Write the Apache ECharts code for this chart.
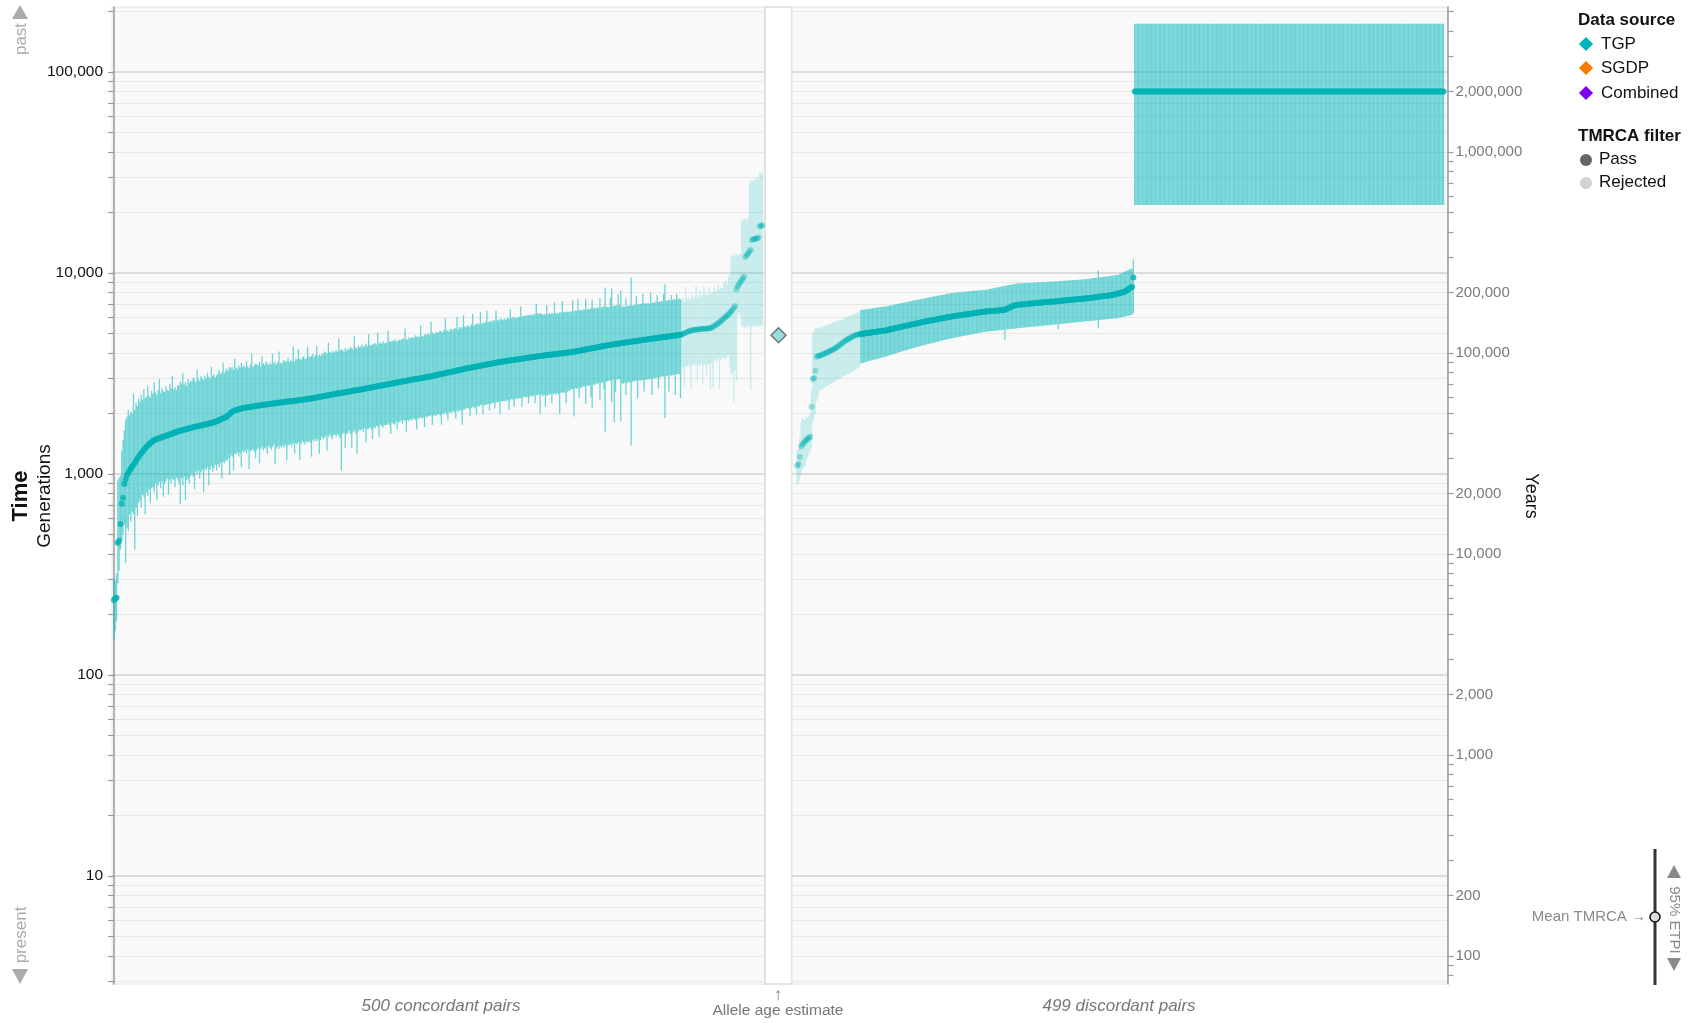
<!DOCTYPE html>
<html>
<head>
<meta charset="utf-8">
<title>Pairwise TMRCA estimates</title>
<script src="https://cdn.jsdelivr.net/npm/echarts@6/dist/echarts.min.js"></script>
<style>
  html, body { margin: 0; padding: 0; background: #ffffff; }
  #chart { width: 1690px; height: 1023px; }
</style>
</head>
<body>
<div id="chart"></div>
<script>
// ---- Axis extents and ticks (generations; years = generations x 25) ----
const YEARS_PER_GENERATION = 25;
const GEN_MIN = 2.9;
const GEN_MAX = 210600;

const generationTicks = [3, 4, 5, 6, 7, 8, 9, 10, 20, 30, 40, 50, 60, 70, 80, 90,
  100, 200, 300, 400, 500, 600, 700, 800, 900, 1000, 2000, 3000, 4000, 5000, 6000, 7000, 8000, 9000,
  10000, 20000, 30000, 40000, 50000, 60000, 70000, 80000, 90000, 100000, 200000];
const generationLabels = [10, 100, 1000, 10000, 100000];

const yearTicks = [80, 90, 100, 200, 300, 400, 500, 600, 700, 800, 900,
  1000, 2000, 3000, 4000, 5000, 6000, 7000, 8000, 9000,
  10000, 20000, 30000, 40000, 50000, 60000, 70000, 80000, 90000,
  100000, 200000, 300000, 400000, 500000, 600000, 700000, 800000, 900000,
  1000000, 2000000, 3000000, 4000000, 5000000];
const yearLabels = [100, 200, 1000, 2000, 10000, 20000, 100000, 200000, 1000000, 2000000];

// ---- Allele age estimate (generations) ----
const alleleAge = 4900;

// ---- 500 concordant pairs: mean TMRCA and 95% ETPI (generations) ----
const concordantMean = [
  236, 240, 242, 455, 465, 564, 711, 762, 892, 940,
  985, 1011, 1040, 1065, 1088, 1108, 1135, 1160, 1190, 1218,
  1243, 1268, 1292, 1318, 1342, 1367, 1387, 1405, 1425, 1443,
  1460, 1476, 1484, 1492, 1500, 1508, 1516, 1525, 1533, 1540,
  1548, 1556, 1565, 1574, 1582, 1590, 1598, 1607, 1616, 1625,
  1634, 1642, 1648, 1655, 1661, 1668, 1674, 1681, 1688, 1694,
  1701, 1707, 1714, 1720, 1726, 1732, 1738, 1744, 1750, 1757,
  1763, 1769, 1775, 1782, 1788, 1794, 1800, 1808, 1818, 1830,
  1842, 1855, 1868, 1880, 1892, 1903, 1913, 1935, 1962, 1990,
  2018, 2041, 2055, 2068, 2080, 2090, 2100, 2108, 2116, 2123,
  2129, 2134, 2140, 2145, 2150, 2156, 2161, 2167, 2172, 2177,
  2183, 2188, 2193, 2198, 2204, 2208, 2213, 2217, 2222, 2226,
  2231, 2236, 2240, 2245, 2250, 2254, 2259, 2263, 2267, 2271,
  2275, 2279, 2283, 2287, 2291, 2295, 2300, 2304, 2308, 2312,
  2316, 2321, 2326, 2331, 2336, 2341, 2346, 2351, 2356, 2361,
  2366, 2371, 2376, 2380, 2386, 2393, 2400, 2407, 2414, 2421,
  2428, 2436, 2443, 2450, 2457, 2465, 2472, 2479, 2485, 2492,
  2499, 2505, 2512, 2519, 2525, 2532, 2539, 2546, 2552, 2559,
  2566, 2573, 2580, 2587, 2594, 2600, 2607, 2614, 2620, 2627,
  2634, 2640, 2647, 2655, 2663, 2671, 2679, 2687, 2695, 2703,
  2711, 2719, 2727, 2735, 2743, 2751, 2759, 2767, 2775, 2783,
  2791, 2799, 2807, 2815, 2823, 2831, 2839, 2847, 2855, 2863,
  2870, 2878, 2886, 2894, 2902, 2910, 2917, 2925, 2933, 2941,
  2949, 2957, 2965, 2973, 2980, 2988, 2996, 3004, 3012, 3020,
  3028, 3035, 3043, 3050, 3060, 3071, 3081, 3092, 3102, 3113,
  3123, 3134, 3144, 3155, 3165, 3176, 3186, 3197, 3207, 3218,
  3228, 3239, 3249, 3260, 3270, 3281, 3292, 3303, 3314, 3325,
  3335, 3345, 3355, 3366, 3376, 3386, 3397, 3407, 3417, 3427,
  3437, 3448, 3458, 3468, 3478, 3489, 3499, 3509, 3519, 3530,
  3540, 3550, 3560, 3570, 3580, 3589, 3597, 3606, 3614, 3623,
  3631, 3640, 3648, 3657, 3666, 3675, 3684, 3692, 3700, 3708,
  3716, 3724, 3733, 3741, 3749, 3757, 3766, 3774, 3782, 3790,
  3798, 3806, 3815, 3823, 3831, 3839, 3848, 3856, 3864, 3872,
  3880, 3888, 3895, 3903, 3910, 3917, 3924, 3931, 3938, 3945,
  3952, 3958, 3965, 3972, 3979, 3986, 3993, 4000, 4008, 4016,
  4024, 4032, 4040, 4048, 4057, 4068, 4080, 4092, 4104, 4116,
  4128, 4140, 4152, 4164, 4176, 4188, 4200, 4212, 4224, 4236,
  4248, 4260, 4272, 4284, 4296, 4308, 4320, 4332, 4344, 4357,
  4369, 4381, 4391, 4401, 4411, 4421, 4431, 4441, 4451, 4461,
  4471, 4481, 4491, 4501, 4511, 4521, 4531, 4541, 4551, 4561,
  4571, 4581, 4591, 4601, 4611, 4621, 4631, 4640, 4650, 4660,
  4670, 4680, 4690, 4700, 4710, 4720, 4729, 4739, 4749, 4758,
  4768, 4778, 4787, 4797, 4807, 4817, 4826, 4836, 4846, 4856,
  4866, 4876, 4886, 4896, 4905, 4914, 4935, 4960, 4990, 5020,
  5050, 5080, 5110, 5140, 5170, 5190, 5208, 5218, 5226, 5234,
  5242, 5250, 5258, 5266, 5274, 5282, 5290, 5298, 5305, 5312,
  5355, 5400, 5450, 5505, 5560, 5620, 5690, 5760, 5840, 5920,
  6000, 6070, 6150, 6240, 6340, 6450, 6570, 6700, 6850, 8300,
  8600, 8800, 9000, 9200, 9400, 9600, 12000, 12300, 12500, 12800,
  13000, 14600, 14700, 14800, 14800, 14900, 15000, 17100, 17200, 17300
];
const concordantLower = [
  150, 165, 185, 285, 330, 420, 470, 500, 560, 360,
  540, 520, 630, 580, 650, 630, 420, 680, 620, 720,
  740, 680, 790, 770, 630, 810, 780, 840, 720, 850,
  860, 810, 900, 740, 880, 910, 850, 920, 770, 890,
  920, 950, 790, 940, 900, 950, 930, 860, 960, 940,
  900, 710, 950, 880, 970, 740, 930, 950, 900, 980,
  1010, 970, 840, 1030, 990, 1040, 950, 1020, 1050, 810,
  1060, 1040, 1080, 880, 1050, 1100, 1030, 1070, 1110, 1040,
  1120, 1080, 1130, 950, 1150, 1130, 1170, 1160, 1200, 990,
  1240, 1220, 1040, 1260, 1250, 1280, 1220, 1270, 1080, 1300,
  1280, 1310, 1260, 1320, 1060, 1300, 1310, 1330, 1290, 1200,
  1320, 1350, 1130, 1330, 1370, 1310, 1340, 1360, 1260, 1380,
  1350, 1320, 1360, 1400, 1120, 1340, 1370, 1330, 1380, 1350,
  1390, 1360, 1400, 1170, 1380, 1400, 1410, 1370, 1420, 1260,
  1420, 1400, 1440, 1170, 1410, 1460, 1430, 1400, 1450, 1440,
  1460, 1430, 1220, 1480, 1450, 1490, 1460, 1490, 1260, 1470,
  1530, 1490, 1510, 1550, 1310, 1520, 1570, 1530, 1490, 1560,
  1570, 1530, 1580, 1550, 1510, 1040, 1580, 1600, 1350, 1570,
  1600, 1640, 1580, 1350, 1610, 1650, 1590, 1260, 1620, 1660,
  1650, 1670, 1620, 1690, 1440, 1670, 1680, 1710, 1670, 1490,
  1710, 1690, 1740, 1720, 1530, 1760, 1730, 1700, 1760, 1750,
  1760, 1790, 1750, 1580, 1800, 1780, 1760, 1820, 1670, 1810,
  1820, 1850, 1780, 1850, 1840, 1620, 1860, 1830, 1870, 1850,
  1870, 1890, 1850, 1670, 1900, 1880, 1920, 1890, 1910, 1710,
  1930, 1910, 1940, 1940, 1960, 1760, 1950, 1970, 1940, 1980,
  1980, 1960, 1760, 2000, 1990, 2020, 1980, 1850, 2030, 2010,
  2030, 2050, 2030, 1890, 2070, 2040, 2080, 2060, 1760, 2090,
  2100, 2120, 2140, 2110, 1940, 2130, 2160, 2120, 2150, 1980,
  2180, 2160, 2200, 2210, 1980, 2190, 2220, 2210, 2230, 2070,
  2230, 2250, 2270, 2120, 2260, 2290, 2280, 1980, 2300, 2300,
  2300, 2320, 2300, 2340, 2090, 2330, 2360, 2340, 2160, 2370,
  2380, 2360, 2390, 2390, 2160, 2410, 2430, 2400, 2420, 2250,
  2430, 2450, 2420, 2470, 2250, 2460, 2480, 2480, 1980, 2490,
  2430, 2480, 2160, 2450, 2480, 2470, 2500, 2250, 2490, 2520,
  2480, 2520, 2500, 1980, 2540, 2520, 2560, 2530, 2250, 2570,
  2590, 2620, 2650, 2630, 1930, 2670, 2650, 2690, 2390, 2670,
  2700, 2730, 2720, 2230, 2750, 2740, 2770, 2420, 2140, 2790,
  2770, 2820, 2800, 2840, 2350, 2830, 2860, 2630, 1620, 2880,
  2900, 2930, 2910, 2280, 2950, 1810, 2570, 2960, 2950, 2970,
  1830, 2830, 2810, 2850, 2470, 2840, 2870, 2850, 1380, 2880,
  2900, 2890, 2920, 2380, 2930, 2910, 2950, 2930, 2570, 2950,
  2950, 2960, 2950, 2980, 2470, 2970, 3000, 2990, 3020, 2660,
  3020, 3040, 3060, 3050, 1900, 3070, 3090, 2570, 3100, 3080,
  3100, 3120, 2470, 3140, 3130, 3140, 2380, 3400, 3350, 2700,
  3450, 3420, 3500, 3380, 2620, 3480, 3520, 3460, 3540, 2900,
  3500, 3450, 3550, 2800, 3480, 3520, 3100, 3540, 3500, 2620,
  3600, 2700, 3650, 3700, 3600, 3750, 2650, 3700, 3800, 3750,
  3800, 3700, 3850, 3900, 3400, 3100, 3200, 2270, 3300, 2900,
  6200, 6400, 6100, 5400, 5500, 5300, 5400, 5500, 5350, 5450,
  2617, 5400, 5450, 5380, 5500, 5420, 5460, 5400, 5500, 5450
];
const concordantUpper = [
  305, 295, 320, 930, 960, 980, 1300, 1480, 1650, 1860,
  1930, 2090, 1960, 2040, 2000, 2510, 2090, 2260, 2180, 2370,
  2290, 2480, 2340, 2640, 2380, 2420, 2750, 2450, 2400, 2590,
  2510, 2860, 2550, 2480, 2620, 2970, 2530, 2660, 2590, 2560,
  2730, 2620, 2590, 2810, 2660, 3080, 2640, 2710, 2620, 2770,
  2750, 2880, 2820, 3190, 2790, 2860, 2730, 2970, 2840, 2920,
  2880, 3030, 2950, 2860, 3300, 2970, 2900, 3060, 2990, 2930,
  3080, 2990, 3190, 3040, 2970, 3410, 3060, 3140, 3010, 3100,
  3170, 3300, 3140, 3210, 3580, 3190, 3280, 3360, 3250, 3410,
  3360, 3410, 3300, 3740, 3390, 3320, 3470, 3370, 3580, 3410,
  3470, 3390, 3630, 3430, 3360, 3500, 3960, 3410, 3480, 3540,
  3520, 3470, 3610, 3430, 3850, 3540, 3500, 3630, 3560, 3480,
  3590, 3520, 3960, 3560, 3630, 3500, 3610, 4070, 3580, 3540,
  3630, 3690, 3610, 3650, 3800, 3590, 3670, 3630, 4290, 3640,
  3760, 3720, 4180, 3740, 3690, 3800, 3850, 3720, 3770, 4290,
  3850, 3810, 3870, 3960, 3800, 3910, 4350, 3850, 3920, 3870,
  3980, 3940, 4070, 4020, 3960, 4510, 4050, 4000, 4090, 4030,
  4070, 4130, 4050, 4730, 4090, 4180, 4140, 4060, 4240, 4110,
  4200, 4160, 4290, 4240, 4180, 4840, 4260, 4200, 4350, 4270,
  4310, 4400, 4270, 4350, 4460, 4320, 4950, 4380, 4360, 4420,
  4420, 4490, 4400, 5060, 4460, 4510, 4440, 4570, 4490, 4470,
  4510, 5170, 4570, 4530, 4620, 4580, 4680, 4600, 4550, 4640,
  4660, 4620, 4730, 4690, 5280, 4710, 4640, 4790, 4720, 4750,
  4800, 4750, 4900, 4820, 4840, 4790, 5500, 4860, 4830, 4930,
  4950, 4910, 5010, 4930, 5720, 5060, 4970, 5020, 5080, 5040,
  5080, 5170, 5120, 5060, 5230, 5940, 5150, 5190, 5120, 5280,
  5260, 5190, 5340, 5280, 6050, 5240, 5390, 5300, 5370, 6160,
  5410, 5370, 5500, 5450, 5390, 5560, 6270, 5480, 5520, 5590,
  5610, 5560, 6380, 5590, 5670, 5630, 5720, 6490, 5680, 5740,
  5780, 5720, 5830, 5810, 6490, 5850, 5790, 5890, 5940, 5840,
  5890, 5940, 5850, 6000, 5920, 6600, 5960, 6010, 6050, 5940,
  6030, 6000, 6070, 6820, 6050, 6120, 6090, 6160, 6140, 6180,
  6160, 6220, 6140, 6270, 6230, 7040, 6290, 6250, 6330, 6270,
  6180, 6270, 6220, 6930, 6250, 6290, 6230, 6330, 6270, 7150,
  6290, 6340, 6270, 6380, 6360, 7260, 6400, 6370, 6440, 6410,
  6410, 6380, 6450, 7300, 6430, 6500, 6470, 7410, 6540, 6520,
  6530, 6590, 6570, 7450, 6610, 6640, 6590, 6700, 7340, 6670,
  6690, 6630, 6740, 6720, 7490, 6760, 6740, 6850, 8450, 6790,
  6780, 6760, 7530, 8370, 6810, 6890, 6870, 6910, 7840, 6940,
  8190, 6770, 6830, 6800, 7460, 6830, 6880, 6910, 9500, 6890,
  6930, 6980, 7670, 6950, 7040, 7010, 7060, 7880, 7040, 7090,
  7040, 7090, 7060, 7980, 7120, 7140, 7100, 7190, 7770, 7160,
  7190, 7250, 7210, 7880, 8800, 7270, 7300, 7350, 7320, 7770,
  7350, 7400, 7370, 7880, 7410, 7460, 7400, 7300, 7500, 7200,
  8500, 7400, 7600, 7350, 7500, 7800, 7450, 7600, 8700, 7550,
  7700, 8200, 7650, 7800, 8600, 7750, 7900, 7700, 8400, 7850,
  7900, 8100, 8500, 8000, 8200, 8800, 8300, 8500, 8400, 8900,
  9000, 9200, 8800, 9500, 9800, 12300, 12000, 12500, 12200, 12300,
  12400, 12200, 12500, 18400, 18200, 18500, 18600, 18300, 18800, 28000,
  29000, 28500, 29000, 28800, 29500, 30000, 29200, 31500, 31000, 32000
];
// pairs whose TMRCA was rejected by the filter (inclusive index ranges)
const concordantRejected = [[437, 499]];

// ---- 499 discordant pairs: mean TMRCA and 95% ETPI (generations) ----
const discordantMean = [
  1100, 1121, 1215, 1370, 1400, 1430, 1455, 1476, 1495, 1515,
  1533, 2163, 2970, 3000, 3265, 3836, 3860, 3880, 3900, 3920,
  3945, 3970, 3995, 4020, 4057, 4085, 4115, 4150, 4180, 4215,
  4250, 4298, 4345, 4395, 4445, 4495, 4545, 4595, 4640, 4680,
  4720, 4760, 4800, 4840, 4875, 4914, 4930, 4945, 4955, 4967,
  4978, 4990, 5000, 5012, 5023, 5035, 5046, 5057, 5069, 5080,
  5092, 5103, 5114, 5126, 5137, 5149, 5155, 5160, 5178, 5196,
  5214, 5232, 5250, 5268, 5286, 5304, 5322, 5340, 5358, 5376,
  5394, 5412, 5430, 5448, 5466, 5484, 5502, 5520, 5538, 5556,
  5574, 5592, 5610, 5630, 5647, 5664, 5681, 5698, 5715, 5732,
  5749, 5766, 5783, 5800, 5817, 5834, 5851, 5868, 5885, 5902,
  5919, 5936, 5953, 5970, 5987, 6004, 6020, 6037, 6054, 6070,
  6084, 6098, 6112, 6126, 6140, 6154, 6168, 6182, 6196, 6210,
  6224, 6238, 6252, 6266, 6280, 6294, 6308, 6322, 6336, 6350,
  6364, 6378, 6392, 6405, 6418, 6430, 6438, 6446, 6454, 6462,
  6470, 6478, 6486, 6494, 6502, 6510, 6518, 6526, 6534, 6542,
  6560, 6600, 6650, 6700, 6750, 6800, 6850, 6890, 6920, 6940,
  6950, 6960, 6970, 6980, 6990, 7000, 7010, 7020, 7030, 7040,
  7050, 7060, 7070, 7080, 7090, 7100, 7110, 7120, 7130, 7140,
  7148, 7156, 7164, 7172, 7180, 7185, 7190, 7201, 7212, 7223,
  7234, 7245, 7256, 7267, 7278, 7289, 7300, 7311, 7322, 7333,
  7344, 7355, 7366, 7377, 7388, 7399, 7410, 7420, 7430, 7440,
  7450, 7460, 7470, 7484, 7498, 7512, 7526, 7540, 7554, 7568,
  7582, 7596, 7610, 7624, 7638, 7652, 7666, 7680, 7694, 7708,
  7722, 7736, 7750, 7780, 7810, 7840, 7870, 7900, 7930, 7960,
  7990, 8020, 8050, 8120, 8200, 8290, 8390, 8460, 8520, 9500,
  80000, 80000, 80000, 80000, 80000, 80000, 80000, 80000, 80000, 80000,
  80000, 80000, 80000, 80000, 80000, 80000, 80000, 80000, 80000, 80000,
  80000, 80000, 80000, 80000, 80000, 80000, 80000, 80000, 80000, 80000,
  80000, 80000, 80000, 80000, 80000, 80000, 80000, 80000, 80000, 80000,
  80000, 80000, 80000, 80000, 80000, 80000, 80000, 80000, 80000, 80000,
  80000, 80000, 80000, 80000, 80000, 80000, 80000, 80000, 80000, 80000,
  80000, 80000, 80000, 80000, 80000, 80000, 80000, 80000, 80000, 80000,
  80000, 80000, 80000, 80000, 80000, 80000, 80000, 80000, 80000, 80000,
  80000, 80000, 80000, 80000, 80000, 80000, 80000, 80000, 80000, 80000,
  80000, 80000, 80000, 80000, 80000, 80000, 80000, 80000, 80000, 80000,
  80000, 80000, 80000, 80000, 80000, 80000, 80000, 80000, 80000, 80000,
  80000, 80000, 80000, 80000, 80000, 80000, 80000, 80000, 80000, 80000,
  80000, 80000, 80000, 80000, 80000, 80000, 80000, 80000, 80000, 80000,
  80000, 80000, 80000, 80000, 80000, 80000, 80000, 80000, 80000, 80000,
  80000, 80000, 80000, 80000, 80000, 80000, 80000, 80000, 80000, 80000,
  80000, 80000, 80000, 80000, 80000, 80000, 80000, 80000, 80000, 80000,
  80000, 80000, 80000, 80000, 80000, 80000, 80000, 80000, 80000, 80000,
  80000, 80000, 80000, 80000, 80000, 80000, 80000, 80000, 80000, 80000,
  80000, 80000, 80000, 80000, 80000, 80000, 80000, 80000, 80000, 80000,
  80000, 80000, 80000, 80000, 80000, 80000, 80000, 80000, 80000, 80000,
  80000, 80000, 80000, 80000, 80000, 80000, 80000, 80000, 80000, 80000,
  80000, 80000, 80000, 80000, 80000, 80000, 80000, 80000, 80000, 80000,
  80000, 80000, 80000, 80000, 80000, 80000, 80000, 80000, 80000, 80000,
  80000, 80000, 80000, 80000, 80000, 80000, 80000, 80000, 80000
];
const discordantLower = [
  880, 900, 950, 1000, 1050, 1080, 1100, 1150, 1200, 1250,
  1300, 1350, 1800, 1900, 2000, 2300, 2400, 2600, 2620, 2640,
  2660, 2690, 2710, 2740, 2760, 2790, 2810, 2840, 2860, 2890,
  2910, 2940, 2960, 2990, 3010, 3040, 3060, 3090, 3110, 3140,
  3160, 3190, 3210, 3240, 3270, 3300, 3330, 3370, 3410, 3550,
  3565, 3580, 3595, 3610, 3625, 3640, 3655, 3670, 3685, 3700,
  3715, 3730, 3745, 3760, 3775, 3790, 3805, 3820, 3836, 3855,
  3873, 3892, 3910, 3928, 3947, 3965, 3984, 4002, 4020, 4040,
  4058, 4076, 4095, 4113, 4132, 4150, 4168, 4187, 4205, 4224,
  4242, 4260, 4280, 4298, 4315, 4331, 4348, 4365, 4381, 4398,
  4415, 4431, 4448, 4465, 4481, 4498, 4515, 4531, 4548, 4565,
  4581, 4598, 4615, 4631, 4648, 4665, 4681, 4698, 4714, 4730,
  4744, 4758, 4772, 4787, 4801, 4815, 4829, 4843, 4858, 4872,
  4886, 4900, 4915, 4929, 4943, 4957, 4971, 4986, 5000, 5014,
  5028, 5042, 5057, 5071, 5085, 5100, 5108, 5117, 5125, 5134,
  5142, 5151, 5159, 5168, 5176, 5185, 5193, 5202, 5210, 5219,
  4640, 5236, 5244, 5253, 5261, 5270, 5278, 5287, 5295, 5304,
  5312, 5320, 5328, 5336, 5344, 5352, 5360, 5368, 5376, 5384,
  5392, 5400, 5408, 5416, 5424, 5432, 5440, 5448, 5456, 5464,
  5472, 5480, 5488, 5496, 5504, 5512, 5520, 5528, 5537, 5545,
  5554, 5250, 5571, 5579, 5588, 5596, 5605, 5613, 5622, 5630,
  5639, 5647, 5656, 5664, 5673, 5681, 5690, 5698, 5707, 5715,
  5724, 5732, 5740, 5749, 5758, 5767, 5775, 5784, 5793, 5802,
  5811, 5820, 5312, 5837, 5846, 5855, 5864, 5872, 5881, 5890,
  5899, 5908, 5916, 5925, 5934, 5943, 5951, 5960, 5981, 6002,
  6023, 6044, 6065, 6086, 6107, 6128, 6149, 6170, 6190, 6300,
  21800, 21800, 21800, 21800, 21800, 21800, 21800, 21800, 21800, 21800,
  21800, 21800, 21800, 21800, 21800, 21800, 21800, 21800, 21800, 21800,
  21800, 21800, 21800, 21800, 21800, 21800, 21800, 21800, 21800, 21800,
  21800, 21800, 21800, 21800, 21800, 21800, 21800, 21800, 21800, 21800,
  21800, 21800, 21800, 21800, 21800, 21800, 21800, 21800, 21800, 21800,
  21800, 21800, 21800, 21800, 21800, 21800, 21800, 21800, 21800, 21800,
  21800, 21800, 21800, 21800, 21800, 21800, 21800, 21800, 21800, 21800,
  21800, 21800, 21800, 21800, 21800, 21800, 21800, 21800, 21800, 21800,
  21800, 21800, 21800, 21800, 21800, 21800, 21800, 21800, 21800, 21800,
  21800, 21800, 21800, 21800, 21800, 21800, 21800, 21800, 21800, 21800,
  21800, 21800, 21800, 21800, 21800, 21800, 21800, 21800, 21800, 21800,
  21800, 21800, 21800, 21800, 21800, 21800, 21800, 21800, 21800, 21800,
  21800, 21800, 21800, 21800, 21800, 21800, 21800, 21800, 21800, 21800,
  21800, 21800, 21800, 21800, 21800, 21800, 21800, 21800, 21800, 21800,
  21800, 21800, 21800, 21800, 21800, 21800, 21800, 21800, 21800, 21800,
  21800, 21800, 21800, 21800, 21800, 21800, 21800, 21800, 21800, 21800,
  21800, 21800, 21800, 21800, 21800, 21800, 21800, 21800, 21800, 21800,
  21800, 21800, 21800, 21800, 21800, 21800, 21800, 21800, 21800, 21800,
  21800, 21800, 21800, 21800, 21800, 21800, 21800, 21800, 21800, 21800,
  21800, 21800, 21800, 21800, 21800, 21800, 21800, 21800, 21800, 21800,
  21800, 21800, 21800, 21800, 21800, 21800, 21800, 21800, 21800, 21800,
  21800, 21800, 21800, 21800, 21800, 21800, 21800, 21800, 21800, 21800,
  21800, 21800, 21800, 21800, 21800, 21800, 21800, 21800, 21800, 21800,
  21800, 21800, 21800, 21800, 21800, 21800, 21800, 21800, 21800
];
const discordantUpper = [
  1320, 1330, 1500, 1800, 1900, 1880, 1850, 1930, 1900, 1950,
  2000, 2600, 5000, 5200, 5300, 5312, 5350, 5330, 5360, 5390,
  5420, 5450, 5480, 5510, 5540, 5570, 5600, 5640, 5670, 5700,
  5740, 5770, 5800, 5840, 5870, 5900, 5940, 5980, 6020, 6060,
  6100, 6140, 6180, 6220, 6260, 6300, 6340, 6380, 6430, 6550,
  6565, 6575, 6590, 6605, 6620, 6630, 6645, 6660, 6675, 6690,
  6700, 6715, 6730, 6745, 6760, 6770, 6790, 6800, 6810, 6830,
  6855, 6875, 6900, 6920, 6940, 6965, 6985, 7010, 7030, 7050,
  7075, 7095, 7120, 7140, 7160, 7185, 7205, 7230, 7250, 7270,
  7295, 7315, 7340, 7360, 7385, 7405, 7430, 7450, 7475, 7495,
  7520, 7540, 7565, 7585, 7610, 7630, 7655, 7675, 7700, 7720,
  7745, 7765, 7790, 7810, 7835, 7860, 7880, 7905, 7925, 7950,
  7960, 7970, 7985, 7995, 8010, 8020, 8030, 8045, 8055, 8065,
  8080, 8090, 8100, 8115, 8125, 8135, 8150, 8160, 8170, 8185,
  8195, 8205, 8220, 8230, 8240, 8250, 8275, 8300, 8325, 8350,
  8375, 8400, 8425, 8450, 8475, 8500, 8525, 8550, 8575, 8600,
  8625, 8650, 8680, 8700, 8730, 8750, 8780, 8800, 8830, 8855,
  8880, 8885, 8895, 8900, 8910, 8915, 8920, 8930, 8935, 8940,
  8950, 8955, 8960, 8970, 8975, 8985, 8990, 9000, 9005, 9010,
  9020, 9025, 9030, 9040, 9045, 9050, 9060, 9070, 9080, 9090,
  9100, 9110, 9115, 9125, 9135, 9145, 9155, 9165, 9175, 9185,
  9195, 9200, 9210, 9220, 9230, 9240, 9250, 9260, 9270, 9280,
  9290, 9300, 9310, 9330, 9350, 9365, 9385, 9405, 9420, 9440,
  9460, 9480, 10300, 9515, 9535, 9555, 9570, 9590, 9610, 9630,
  9645, 9665, 9685, 9705, 9720, 9740, 9760, 9780, 9850, 9920,
  9990, 10060, 10130, 10200, 10270, 10340, 10400, 10470, 10530, 11700,
  174000, 174000, 174000, 174000, 174000, 174000, 174000, 174000, 174000, 174000,
  174000, 174000, 174000, 174000, 174000, 174000, 174000, 174000, 174000, 174000,
  174000, 174000, 174000, 174000, 174000, 174000, 174000, 174000, 174000, 174000,
  174000, 174000, 174000, 174000, 174000, 174000, 174000, 174000, 174000, 174000,
  174000, 174000, 174000, 174000, 174000, 174000, 174000, 174000, 174000, 174000,
  174000, 174000, 174000, 174000, 174000, 174000, 174000, 174000, 174000, 174000,
  174000, 174000, 174000, 174000, 174000, 174000, 174000, 174000, 174000, 174000,
  174000, 174000, 174000, 174000, 174000, 174000, 174000, 174000, 174000, 174000,
  174000, 174000, 174000, 174000, 174000, 174000, 174000, 174000, 174000, 174000,
  174000, 174000, 174000, 174000, 174000, 174000, 174000, 174000, 174000, 174000,
  174000, 174000, 174000, 174000, 174000, 174000, 174000, 174000, 174000, 174000,
  174000, 174000, 174000, 174000, 174000, 174000, 174000, 174000, 174000, 174000,
  174000, 174000, 174000, 174000, 174000, 174000, 174000, 174000, 174000, 174000,
  174000, 174000, 174000, 174000, 174000, 174000, 174000, 174000, 174000, 174000,
  174000, 174000, 174000, 174000, 174000, 174000, 174000, 174000, 174000, 174000,
  174000, 174000, 174000, 174000, 174000, 174000, 174000, 174000, 174000, 174000,
  174000, 174000, 174000, 174000, 174000, 174000, 174000, 174000, 174000, 174000,
  174000, 174000, 174000, 174000, 174000, 174000, 174000, 174000, 174000, 174000,
  174000, 174000, 174000, 174000, 174000, 174000, 174000, 174000, 174000, 174000,
  174000, 174000, 174000, 174000, 174000, 174000, 174000, 174000, 174000, 174000,
  174000, 174000, 174000, 174000, 174000, 174000, 174000, 174000, 174000, 174000,
  174000, 174000, 174000, 174000, 174000, 174000, 174000, 174000, 174000, 174000,
  174000, 174000, 174000, 174000, 174000, 174000, 174000, 174000, 174000, 174000,
  174000, 174000, 174000, 174000, 174000, 174000, 174000, 174000, 174000
];
const discordantRejected = [[0, 48]];

// ---- Styling ----
const FONT = '"Liberation Sans", Arial, Helvetica, sans-serif';
const TEAL = '#00b2b5';
const BAND_PASS = 'rgba(0, 183, 186, 0.56)';
const BAND_REJECT = 'rgba(0, 183, 186, 0.2)';
const DOT_REJECT = 'rgba(0, 178, 181, 0.45)';
const KEY_GRAY = '#8a8a8a';

function isRejected(ranges, i) {
  return ranges.some(r => i >= r[0] && i <= r[1]);
}

// split pairs into pass / rejected rows: [index, lower, upper, mean]
function splitPairs(mean, lower, upper, rejected) {
  const pass = [], rej = [];
  for (let i = 0; i < mean.length; i++) {
    const row = [i, lower[i], upper[i], mean[i]];
    (isRejected(rejected, i) ? rej : pass).push(row);
  }
  return { pass, rej };
}

const conc = splitPairs(concordantMean, concordantLower, concordantUpper, concordantRejected);
const disc = splitPairs(discordantMean, discordantLower, discordantUpper, discordantRejected);

// one vertical interval bar per pair, one pair wide
function intervalRenderer(fill) {
  return function (params, api) {
    const i = api.value(0);
    const topLeft = api.coord([i - 0.5, api.value(2)]);
    const bottomRight = api.coord([i + 0.5, api.value(1)]);
    return {
      type: 'rect',
      shape: {
        x: topLeft[0], y: topLeft[1],
        width: bottomRight[0] - topLeft[0],
        height: bottomRight[1] - topLeft[1]
      },
      style: { fill: fill }
    };
  };
}

function intervalSeries(rows, xi, yi, fill) {
  return {
    type: 'custom', xAxisIndex: xi, yAxisIndex: yi,
    data: rows, encode: { x: 0, y: [1, 2] },
    renderItem: intervalRenderer(fill), clip: true, silent: true, z: 2
  };
}

function meanSeries(rows, xi, yi, color) {
  return {
    type: 'scatter', xAxisIndex: xi, yAxisIndex: yi,
    data: rows.map(r => [r[0], r[3]]),
    symbol: 'circle', symbolSize: 6,
    itemStyle: { color: color }, silent: true, z: 3
  };
}

const fmt = v => Math.round(v).toLocaleString('en-US');

function genAxis(grid, opts) {
  return Object.assign({
    type: 'log', logBase: 10, gridIndex: grid, min: GEN_MIN, max: GEN_MAX,
    position: 'left',
    axisLine: { show: false },
    axisTick: { show: false, customValues: generationTicks },
    axisLabel: { show: false },
    splitLine: { show: false },
    minorTick: { show: false }, minorSplitLine: { show: false }
  }, opts);
}

function label(x, y, text, font, fill, extra) {
  return Object.assign({
    type: 'text', x: x, y: y,
    style: { text: text, font: font, fill: fill, align: 'left', verticalAlign: 'middle' }
  }, extra || {});
}

function centered(x, y, text, font, fill, rotation) {
  return {
    type: 'text', x: x, y: y, rotation: rotation || 0,
    style: { text: text, font: font, fill: fill, align: 'center', verticalAlign: 'middle' }
  };
}

function diamondKey(x, y, color) {
  return { type: 'rect', x: x, y: y, rotation: Math.PI / 4,
           shape: { x: -5, y: -5, width: 10, height: 10 }, style: { fill: color } };
}

const chart = echarts.init(document.getElementById('chart'), null, { renderer: 'canvas' });

const option = {
  animation: false,
  backgroundColor: '#ffffff',
  textStyle: { fontFamily: FONT },
  grid: [
    { left: 112, top: 7, width: 653, bottom: 39, show: true, backgroundColor: '#f9f9f9',
      borderColor: '#e4e4e4', borderWidth: 1, containLabel: false, outerBoundsMode: 'none' },
    { left: 765, top: 7, width: 27, bottom: 39, show: true, backgroundColor: '#ffffff',
      borderColor: '#dadada', borderWidth: 1.5, containLabel: false, outerBoundsMode: 'none' },
    { left: 792, top: 7, width: 655.5, bottom: 39, show: true, backgroundColor: '#f9f9f9',
      borderColor: '#e4e4e4', borderWidth: 1, containLabel: false, outerBoundsMode: 'none' }
  ],
  xAxis: [
    { type: 'value', gridIndex: 0, min: -1.5, max: 501, show: false },
    { type: 'value', gridIndex: 1, min: 0, max: 1, show: false },
    { type: 'value', gridIndex: 2, min: -4, max: 501, show: false }
  ],
  yAxis: [
    // 0: left generation axis with all tick grid lines
    genAxis(0, {
      axisLine: { show: true, lineStyle: { color: '#9a9a9a', width: 1.5 } },
      axisTick: { show: true, customValues: generationTicks, length: 6, lineStyle: { color: '#9a9a9a', width: 1.2 } },
      axisLabel: { show: true, customValues: generationLabels, formatter: fmt, color: '#111',
                   fontSize: 15.5, fontFamily: FONT, margin: 9 },
      splitLine: { show: true, lineStyle: { color: '#e8e8e8', width: 1 } }
    }),
    // 1: stronger lines at powers of ten, left panel
    genAxis(0, {
      axisTick: { show: false, customValues: generationLabels },
      splitLine: { show: true, lineStyle: { color: '#dcdcdc', width: 2 } }
    }),
    // 2: allele age column
    genAxis(1, {}),
    // 3: minor grid lines, right panel
    genAxis(2, {
      splitLine: { show: true, lineStyle: { color: '#e8e8e8', width: 1 } }
    }),
    // 4: stronger lines at powers of ten, right panel
    genAxis(2, {
      axisTick: { show: false, customValues: generationLabels },
      splitLine: { show: true, lineStyle: { color: '#dcdcdc', width: 2 } }
    }),
    // 5: right axis in years
    {
      type: 'log', logBase: 10, gridIndex: 2, position: 'right',
      min: GEN_MIN * YEARS_PER_GENERATION, max: GEN_MAX * YEARS_PER_GENERATION,
      axisLine: { show: true, lineStyle: { color: '#9a9a9a', width: 1.5 } },
      axisTick: { show: true, customValues: yearTicks, length: 6, lineStyle: { color: '#9a9a9a', width: 1.2 } },
      axisLabel: { show: true, customValues: yearLabels, formatter: fmt, color: '#7a7a7a',
                   fontSize: 15, fontFamily: FONT, margin: 8 },
      splitLine: { show: false },
      minorTick: { show: false }, minorSplitLine: { show: false }
    }
  ],
  series: [
    intervalSeries(conc.pass, 0, 0, BAND_PASS),
    intervalSeries(conc.rej, 0, 0, BAND_REJECT),
    meanSeries(conc.rej, 0, 0, DOT_REJECT),
    meanSeries(conc.pass, 0, 0, TEAL),
    intervalSeries(disc.pass, 2, 3, BAND_PASS),
    intervalSeries(disc.rej, 2, 3, BAND_REJECT),
    meanSeries(disc.rej, 2, 3, DOT_REJECT),
    meanSeries(disc.pass, 2, 3, TEAL),
    {
      type: 'scatter', xAxisIndex: 1, yAxisIndex: 2,
      data: [[0.5, alleleAge]],
      symbol: 'diamond', symbolSize: [15, 15],
      itemStyle: { color: '#7dd6da', borderColor: '#555', borderWidth: 1.5 },
      silent: true, z: 4
    }
  ],
  graphic: [
    // left axis titles
    centered(21, 496, 'Time', 'bold 22px ' + FONT, '#111', Math.PI / 2),
    centered(45, 496, 'Generations', '19px ' + FONT, '#111', Math.PI / 2),
    // past / present markers
    { type: 'polygon', shape: { points: [[20, 5], [12, 19], [28, 19]] }, style: { fill: '#ababab' } },
    centered(21, 39, 'past', '17px ' + FONT, '#ababab', Math.PI / 2),
    centered(21, 935, 'present', '17px ' + FONT, '#ababab', Math.PI / 2),
    { type: 'polygon', shape: { points: [[12, 969], [28, 969], [20, 984]] }, style: { fill: '#ababab' } },
    // right axis title
    centered(1531, 496, 'Years', '18px ' + FONT, '#111', -Math.PI / 2),
    // bottom captions
    centered(441, 1006, '500 concordant pairs', 'italic 17px ' + FONT, '#777'),
    centered(1119, 1006, '499 discordant pairs', 'italic 17px ' + FONT, '#777'),
    centered(778, 995, '↑', '17px ' + FONT, '#777'),
    centered(778, 1011, 'Allele age estimate', '15.5px ' + FONT, '#777'),
    // legend: data source
    label(1578, 20, 'Data source', 'bold 17px ' + FONT, '#111'),
    diamondKey(1586, 44, '#00b5b8'),
    label(1601, 44, 'TGP', '17px ' + FONT, '#111'),
    diamondKey(1586, 68, '#f57c00'),
    label(1601, 68, 'SGDP', '17px ' + FONT, '#111'),
    diamondKey(1586, 93, '#7a00f0'),
    label(1601, 93, 'Combined', '17px ' + FONT, '#111'),
    // legend: TMRCA filter
    label(1578, 136, 'TMRCA filter', 'bold 17px ' + FONT, '#111'),
    { type: 'circle', shape: { cx: 1586, cy: 160, r: 6 }, style: { fill: '#666' } },
    label(1599, 159, 'Pass', '17px ' + FONT, '#111'),
    { type: 'circle', shape: { cx: 1586, cy: 183, r: 6 }, style: { fill: '#d2d2d2' } },
    label(1599, 182, 'Rejected', '17px ' + FONT, '#111'),
    // key for mean and interval
    { type: 'line', shape: { x1: 1655, y1: 849, x2: 1655, y2: 985 }, style: { stroke: '#333', lineWidth: 3 } },
    { type: 'circle', shape: { cx: 1655, cy: 917, r: 5 }, style: { fill: '#dcdcdc', stroke: '#111', lineWidth: 1.5 } },
    label(1646, 917, 'Mean TMRCA →', '15px ' + FONT, KEY_GRAY, { style: { text: 'Mean TMRCA →', font: '15px ' + FONT, fill: KEY_GRAY, align: 'right', verticalAlign: 'middle' } }),
    { type: 'polygon', shape: { points: [[1674, 865], [1667, 878], [1681, 878]] }, style: { fill: KEY_GRAY } },
    centered(1674, 920, '95% ETPI', '15px ' + FONT, KEY_GRAY, -Math.PI / 2),
    { type: 'polygon', shape: { points: [[1667, 958], [1681, 958], [1674, 971]] }, style: { fill: KEY_GRAY } }
  ]
};

chart.setOption(option);
</script>
</body>
</html>
